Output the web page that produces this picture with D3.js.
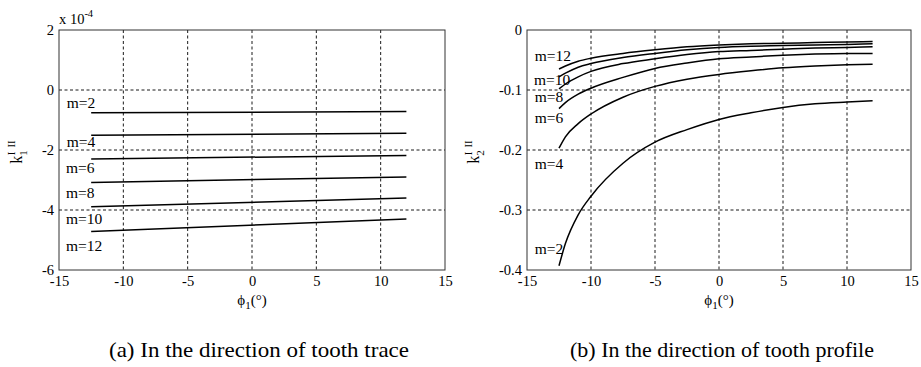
<!DOCTYPE html>
<html>
<head>
<meta charset="utf-8">
<script src="https://cdn.jsdelivr.net/npm/d3@7"></script>
<style>
  body { margin: 0; background: #fff; }
  svg { display: block; font-family: "Liberation Serif", "Times New Roman", serif; }
</style>
</head>
<body>
<svg id="chart" width="921" height="367"></svg>
<script>
// ---- data ----
const phiTicks = [-15, -10, -5, 0, 5, 10, 15];
const k1Ticks = [2, 0, -2, -4, -6];          // x 10^-4
const k2Ticks = [0, -0.1, -0.2, -0.3, -0.4];

const mValues = [2, 4, 6, 8, 10, 12];

// (a) tooth trace: nearly straight lines, endpoints at phi = -12.5 and 12
const phiTrace = [-12.5, 12];
const k1Series = [
  [-0.76, -0.72],
  [-1.51, -1.44],
  [-2.30, -2.18],
  [-3.08, -2.90],
  [-3.89, -3.60],
  [-4.72, -4.30]
];

// (b) tooth profile
const phiProfile = [-12.5, -12, -11, -10, -7.5, -5, -2.5, 0, 2.5, 5, 7.5, 10, 12];
const k2Series = [
  [-0.393, -0.356, -0.308, -0.277, -0.222, -0.187, -0.166, -0.149, -0.138, -0.129, -0.123, -0.120, -0.118],
  [-0.197, -0.178, -0.156, -0.140, -0.112, -0.094, -0.082, -0.074, -0.068, -0.063, -0.060, -0.058, -0.057],
  [-0.131, -0.121, -0.107, -0.097, -0.079, -0.064, -0.055, -0.048, -0.045, -0.042, -0.040, -0.039, -0.039],
  [-0.098, -0.090, -0.078, -0.069, -0.056, -0.048, -0.041, -0.036, -0.034, -0.032, -0.030, -0.029, -0.028],
  [-0.078, -0.072, -0.062, -0.056, -0.046, -0.039, -0.033, -0.029, -0.027, -0.026, -0.025, -0.024, -0.023],
  [-0.065, -0.060, -0.052, -0.047, -0.039, -0.033, -0.028, -0.025, -0.023, -0.022, -0.021, -0.020, -0.019]
];

// label anchors in data units [phi, k], same order as mValues
const k1LabelPos = [[-14.4, -0.43], [-14.4, -1.73], [-14.45, -2.6], [-14.45, -3.43], [-14.45, -4.27], [-14.45, -5.2]];
const k2LabelPos = [[-14.4, -0.364], [-14.4, -0.222], [-14.4, -0.146], [-14.4, -0.111], [-14.45, -0.082], [-14.4, -0.042]];

const captions = ['(a) In the direction of tooth trace', '(b) In the direction of tooth profile'];

// ---- drawing ----
const svg = d3.select('#chart');
const hyphen = f => d => f(d).replace('\u2212', '-');

function panel(opts) {
  const x = d3.scaleLinear().domain([-15, 15]).range([opts.left, opts.right]);
  const y = d3.scaleLinear().domain(opts.yDomain).range([opts.bottom, opts.top]);
  const g = svg.append('g');

  // grid
  g.selectAll('.gx').data(phiTicks.slice(1, -1)).join('line')
    .attr('x1', d => x(d)).attr('x2', d => x(d))
    .attr('y1', opts.top).attr('y2', opts.bottom)
    .attr('stroke', '#000').attr('stroke-width', 0.9).attr('stroke-dasharray', '3,2.5');
  g.selectAll('.gy').data(opts.yTicks.slice(1, -1)).join('line')
    .attr('x1', opts.left).attr('x2', opts.right)
    .attr('y1', d => y(d)).attr('y2', d => y(d))
    .attr('stroke', '#000').attr('stroke-width', 0.9).attr('stroke-dasharray', '3,2.5');

  // frame
  g.append('rect')
    .attr('x', opts.left).attr('y', opts.top)
    .attr('width', opts.right - opts.left).attr('height', opts.bottom - opts.top)
    .attr('fill', 'none').attr('stroke', '#333').attr('stroke-width', 1);

  // ticks
  const xAxis = d3.axisBottom(x).tickValues(phiTicks).tickSize(0).tickPadding(6).tickFormat(hyphen(d3.format('d')));
  g.append('g').attr('transform', `translate(0,${opts.bottom})`).call(xAxis)
    .call(a => a.select('.domain').remove())
    .selectAll('text').attr('font-size', 14.5).attr('font-family', 'Liberation Serif').attr('fill', '#000');

  const yAxis = d3.axisLeft(y).tickValues(opts.yTicks).tickSize(0).tickPadding(5).tickFormat(hyphen(opts.fmt));
  g.append('g').attr('transform', `translate(${opts.left},0)`).call(yAxis)
    .call(a => a.select('.domain').remove())
    .selectAll('text').attr('font-size', 14.5).attr('font-family', 'Liberation Serif').attr('fill', '#000');

  // lines
  const line = d3.line().x(d => x(d[0])).y(d => y(d[1])).curve(d3.curveMonotoneX);
  g.selectAll('.series').data(opts.series).join('path')
    .attr('d', s => line(opts.phi.map((p, i) => [p, s[i]])))
    .attr('fill', 'none').attr('stroke', '#000').attr('stroke-width', 1.5);

  // m labels
  g.selectAll('.mlab').data(mValues).join('text')
    .attr('x', (d, i) => x(opts.labels[i][0]))
    .attr('y', (d, i) => y(opts.labels[i][1]))
    .attr('dy', '0.35em')
    .attr('font-size', 15.5)
    .text(d => 'm=' + d);

  // x label
  const xl = g.append('text')
    .attr('x', (opts.left + opts.right) / 2).attr('y', 305)
    .attr('text-anchor', 'middle').attr('font-size', 15);
  xl.append('tspan').text('ϕ');
  xl.append('tspan').attr('font-size', 11).attr('dy', 4).text('1');
  xl.append('tspan').attr('dy', -4).text('(°)');

  // y label
  const yl = g.append('text')
    .attr('transform', `translate(${opts.ylabX},152) rotate(-90)`)
    .attr('text-anchor', 'middle').attr('font-size', 16);
  yl.append('tspan').text('k');
  yl.append('tspan').attr('font-size', 11).attr('dy', 5).text(opts.sub);
  yl.append('tspan').attr('font-size', 11).attr('dy', -12).attr('dx', -5).text('I');
  yl.append('tspan').attr('font-size', 11).attr('dx', 4).text('II');

  // caption
  svg.append('text')
    .attr('x', opts.capX).attr('y', 357)
    .attr('text-anchor', 'middle').attr('font-size', 21)
    .attr('textLength', opts.capW).attr('lengthAdjust', 'spacingAndGlyphs')
    .text(opts.caption);

  return { x, y, g };
}

const a = panel({
  left: 59, right: 445, top: 30, bottom: 270,
  yDomain: [-6, 2], yTicks: k1Ticks, fmt: d3.format('d'),
  phi: phiTrace, series: k1Series, labels: k1LabelPos,
  ylabX: 22, sub: '1', caption: captions[0], capX: 259, capW: 300
});
const b = panel({
  left: 527, right: 911, top: 30, bottom: 270,
  yDomain: [-0.4, 0], yTicks: k2Ticks, fmt: d => d === 0 ? '0' : d3.format('.1f')(d),
  phi: phiProfile, series: k2Series, labels: k2LabelPos,
  ylabX: 479, sub: '2', caption: captions[1], capX: 722, capW: 304
});

// scale factor label
const ex = a.g.append('text').attr('x', 59).attr('y', 24).attr('font-size', 14.5);
ex.append('tspan').text('x 10');
ex.append('tspan').attr('font-size', 10.5).attr('dy', -7).text('-4');
</script>
</body>
</html>
